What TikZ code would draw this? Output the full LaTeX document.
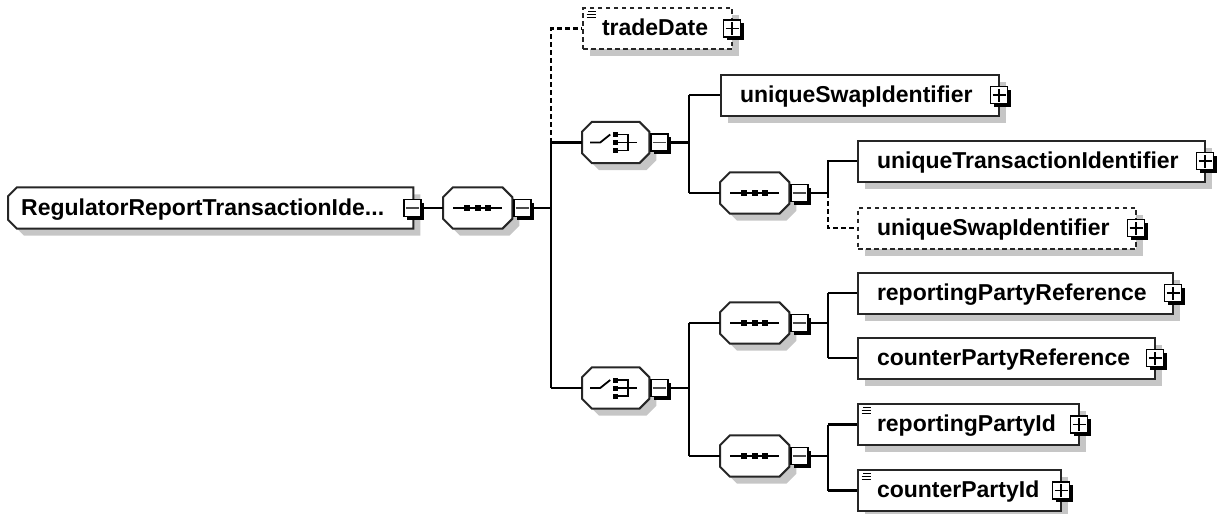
\documentclass[tikz,border=0pt]{standalone}
\usepackage{fontspec}
\setmainfont{Liberation Sans}
\usetikzlibrary{shadows}
\hyphenpenalty=10000
\definecolor{outline}{HTML}{262626}
\definecolor{shade}{HTML}{C6C6C6}
\tikzset{
  boxshadow/.style={drop shadow={shadow xshift=7pt,shadow yshift=-7pt,fill=shade,opacity=1}},
  conn/.style={line width=2.2pt,draw=black},
  optconn/.style={line width=2.2pt,draw=black,dash pattern=on 4.5pt off 3.5pt},
  elem/.style={rectangle,draw=outline,line width=2pt,fill=white,anchor=west,
    minimum height=41pt,inner xsep=19pt,inner ysep=0pt,text height=17pt,text depth=3pt,
    align=left,boxshadow},
  optelem/.style={elem,dash pattern=on 4.5pt off 3.5pt},
  frame/.style={rectangle,draw=none,anchor=west,minimum height=41pt,inner sep=0pt},
  outlinepath/.style={draw=outline,line width=2pt,fill=white,line join=miter,boxshadow},
  btn/.style={rectangle,draw=black,line width=1.6pt,fill=white,minimum size=17pt,inner sep=0pt,
    general shadow={shadow xshift=3pt,shadow yshift=-3pt,fill=black,opacity=1}},
  plusbtn/.style={btn,path picture={
    \draw[line width=1.6pt]
      ([xshift=-6.5pt]path picture bounding box.center) -- ([xshift=6.5pt]path picture bounding box.center)
      ([yshift=-6.5pt]path picture bounding box.center) -- ([yshift=6.5pt]path picture bounding box.center);}},
  minusbtn/.style={btn,path picture={
    \draw[line width=1.5pt,draw=black!70]
      ([xshift=-6.5pt]path picture bounding box.center) -- ([xshift=6.5pt]path picture bounding box.center);}},
  glyph/.style={line width=1.8pt,draw=black},
}
% octagonal compositor frame around a placeholder node
\newcommand\octagonframe[1]{%
  \path[outlinepath] ([xshift=10pt]#1.north west) -- ([xshift=-10pt]#1.north east)
    -- ([yshift=-10pt]#1.north east) -- ([yshift=10pt]#1.south east)
    -- ([xshift=-10pt]#1.south east) -- ([xshift=10pt]#1.south west)
    -- ([yshift=10pt]#1.south west) -- ([yshift=-10pt]#1.north west) -- cycle;}
% sequence symbol: a line with three dots
\newcommand\seqglyph[1]{%
  \begin{scope}[shift={(#1.center)}]
    \draw[glyph] (-24.5,0) -- (24.5,0);
    \foreach \dx in {-10.5,0,10.5} \fill (\dx-3,-3) rectangle (\dx+3,3);
  \end{scope}}
% choice symbol: a switch in front of three contacts
\newcommand\choiceglyph[1]{%
  \begin{scope}[shift={(#1.center)}]
    \draw[glyph] (-25.5,0) -- (-15.5,0) -- (-5.5,-8);
    \foreach \dy in {-8,0,8} \fill (-2.75,\dy-2.5) rectangle (2.75,\dy+2.5);
    \draw[glyph] (2.5,-8) -- (12.5,-8) -- (12.5,8) -- (2.5,8) (2.5,0) -- (21.5,0);
  \end{scope}}
% simple-content mark in the upper left corner of an element
\newcommand\docglyph[1]{%
  \begin{scope}[shift={(#1.north west)}]
    \draw[line width=1.4pt] (6,4.5) -- (14,4.5) (4.5,7.5) -- (14,7.5) (4.5,10.5) -- (14,10.5);
  \end{scope}}

\begin{document}
\begin{tikzpicture}[x=1pt,y=-1pt,font=\fontsize{23pt}{27pt}\selectfont\bfseries]
\path[use as bounding box] (0,0) rectangle (1221,514);

% root element
\node[frame,minimum width=405pt] (root) at (8,208) {};
\path[outlinepath] ([xshift=9pt]root.north west) -- (root.north east) -- (root.south east)
  -- ([xshift=9pt]root.south west) -- ([yshift=9pt]root.south west)
  -- ([yshift=-9pt]root.north west) -- cycle;
\node[anchor=base west,inner sep=0pt] (rootname) at ([shift={(13pt,-7pt)}]root.west) {RegulatorReportTransactionIde...};
\node[minusbtn] (rootbtn) at ([xshift=-1pt]root.east) {};

% top sequence
\node[frame,minimum width=69pt] (seq0) at (443,208) {};
\octagonframe{seq0}\seqglyph{seq0}
\node[minusbtn,anchor=west] (seq0btn) at ([xshift=0.5pt]seq0.east) {};
\coordinate (j0) at (551,208);

% optional tradeDate
\node[optelem,text width=111pt] (trade) at (582,28.5) {tradeDate};
\docglyph{trade}
\node[plusbtn] (tradebtn) at ([xshift=-1pt]trade.east) {};

% first choice
\node[frame,minimum width=67pt] (ch1) at (582,142.5) {};
\octagonframe{ch1}\choiceglyph{ch1}
\node[minusbtn,anchor=west] (ch1btn) at ([xshift=0.5pt]ch1.east) {};
\coordinate (j1) at (689,142.5);

\node[elem,text width=240pt] (usi) at (720,95) {uniqueSwapIdentifier};
\node[plusbtn] (usibtn) at ([xshift=-1pt]usi.east) {};

\node[frame,minimum width=69pt] (seq1) at (720,193) {};
\octagonframe{seq1}\seqglyph{seq1}
\node[minusbtn,anchor=west] (seq1btn) at ([xshift=0.5pt]seq1.east) {};
\coordinate (j2) at (828,193);

\node[elem,text width=309pt] (uti) at (857,161) {uniqueTransactionIdentifier};
\node[plusbtn] (utibtn) at ([xshift=-1pt]uti.east) {};
\node[optelem,text width=240pt] (usib) at (857,228) {uniqueSwapIdentifier};
\node[plusbtn] (usibbtn) at ([xshift=-1pt]usib.east) {};

% second choice
\node[frame,minimum width=67pt] (ch2) at (582,388) {};
\octagonframe{ch2}\choiceglyph{ch2}
\node[minusbtn,anchor=west] (ch2btn) at ([xshift=0.5pt]ch2.east) {};
\coordinate (j3) at (689,388);

\node[frame,minimum width=69pt] (seq2) at (720,323) {};
\octagonframe{seq2}\seqglyph{seq2}
\node[minusbtn,anchor=west] (seq2btn) at ([xshift=0.5pt]seq2.east) {};
\coordinate (j4) at (828,323);

\node[elem,text width=277pt] (rpr) at (857,293) {reportingPartyReference};
\node[plusbtn] (rprbtn) at ([xshift=-1pt]rpr.east) {};
\node[elem,text width=259pt] (cpr) at (857,358) {counterPartyReference};
\node[plusbtn] (cprbtn) at ([xshift=-1pt]cpr.east) {};

\node[frame,minimum width=69pt] (seq3) at (720,456) {};
\octagonframe{seq3}\seqglyph{seq3}
\node[minusbtn,anchor=west] (seq3btn) at ([xshift=0.5pt]seq3.east) {};
\coordinate (j5) at (828,456);

\node[elem,text width=183pt] (rpi) at (857,424.5) {reportingPartyId};
\docglyph{rpi}
\node[plusbtn] (rpibtn) at ([xshift=-1pt]rpi.east) {};
\node[elem,text width=165pt] (cpi) at (857,490.5) {counterPartyId};
\docglyph{cpi}
\node[plusbtn] (cpibtn) at ([xshift=-1pt]cpi.east) {};

% connectors
\draw[conn] (rootbtn.east) -- (seq0.west);
\draw[conn] (seq0btn.east) -- (j0);
\draw[conn] (j0 |- ch1.west) -- (j0 |- ch2.west);
\draw[conn] (j0 |- ch1.west) -- (ch1.west);
\draw[conn] (j0 |- ch2.west) -- (ch2.west);
\draw[optconn] (j0 |- ch1.west) |- (trade.west);

\draw[conn] (ch1btn.east) -- (j1);
\draw[conn] (j1 |- usi.west) -- (j1 |- seq1.west);
\draw[conn] (j1 |- usi.west) -- (usi.west);
\draw[conn] (j1 |- seq1.west) -- (seq1.west);

\draw[conn] (seq1btn.east) -- (j2);
\draw[conn] (j2) |- (uti.west);
\draw[optconn] (j2) |- (usib.west);

\draw[conn] (ch2btn.east) -- (j3);
\draw[conn] (j3 |- seq2.west) -- (j3 |- seq3.west);
\draw[conn] (j3 |- seq2.west) -- (seq2.west);
\draw[conn] (j3 |- seq3.west) -- (seq3.west);

\draw[conn] (seq2btn.east) -- (j4);
\draw[conn] (j4 |- rpr.west) -- (j4 |- cpr.west);
\draw[conn] (j4 |- rpr.west) -- (rpr.west);
\draw[conn] (j4 |- cpr.west) -- (cpr.west);

\draw[conn] (seq3btn.east) -- (j5);
\draw[conn] (j5 |- rpi.west) -- (j5 |- cpi.west);
\draw[conn] (j5 |- rpi.west) -- (rpi.west);
\draw[conn] (j5 |- cpi.west) -- (cpi.west);
\end{tikzpicture}
\end{document}
